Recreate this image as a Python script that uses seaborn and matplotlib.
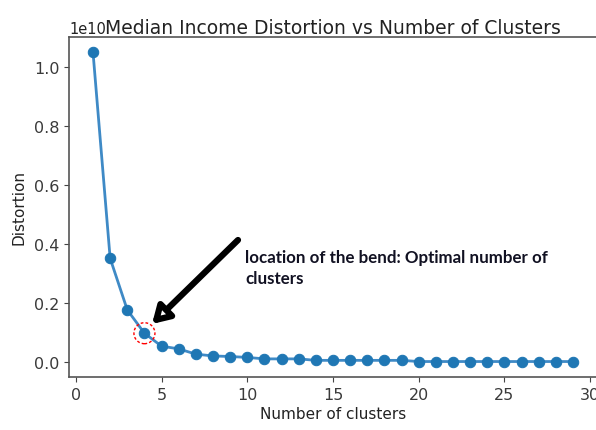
import numpy as np
import pandas as pd
import matplotlib
matplotlib.use("Agg")
import matplotlib.pyplot as plt
import seaborn as sns

clusters = list(range(1, 30))
distortion_e10 = [1.051, 0.352, 0.177, 0.098, 0.054, 0.045, 0.027, 0.021, 0.019, 0.016,
                  0.011, 0.011, 0.011, 0.006, 0.006, 0.006, 0.006, 0.006, 0.006,
                  0.002, 0.002, 0.002, 0.002, 0.002, 0.002, 0.002, 0.002, 0.002, 0.002]
title = "Median Income Distortion vs Number of Clusters"
xlabel = "Number of clusters"
ylabel = "Distortion"
note = "location of the bend: Optimal number of\nclusters"
bend_k = 4

df = pd.DataFrame({"k": clusters, "d": np.array(distortion_e10) * 1e10})

sns.set_style("ticks")
plt.rcParams["font.family"] = ["DejaVu Sans"]

fig = plt.figure(figsize=(5.96, 4.31), dpi=100)
ax = fig.add_axes([69/596, 53/431, 528/596, 340.3/431])

sns.lineplot(data=df, x="k", y="d", marker="o", markersize=7.5, color="#3f8ac6",
             markerfacecolor="#1f77b4", markeredgecolor="#1f77b4", linewidth=2, ax=ax)

ax.set_title(title, fontsize=13.5, color="#222222", pad=3, y=1.0)
ax.set_xlabel(xlabel, fontsize=11, color="#222222", labelpad=3)
ax.set_ylabel(ylabel, fontsize=11, color="#222222", labelpad=5)
ax.tick_params(colors="#444444", labelsize=11.5, length=3.5, labelcolor="#3a3a3a")
for s in ax.spines.values():
    s.set_color("#555555")
    s.set_linewidth(1.2)
ax.set_xticks([0, 5, 10, 15, 20, 25, 30])
ax.yaxis.get_offset_text().set_color("#222222")
ax.yaxis.get_offset_text().set_fontsize(10.5)

# red dashed circle around bend
bx, by = bend_k, df.loc[df.k == bend_k, "d"].values[0]
px = ax.transData.transform((bx, by))
circ = plt.Circle(px, 10.5, transform=None, fill=False, edgecolor="red",
                  linestyle=(0, (2, 1.5)), linewidth=1.0)
fig.patches.append(circ)
circ.set_figure(fig)

# arrow
ax.annotate("", xy=(152/596, 1 - 325/431), xycoords="figure fraction",
            xytext=(238/596, 1 - 241/431), textcoords="figure fraction",
            arrowprops=dict(arrowstyle="-|>,head_length=1.0,head_width=0.6",
                        lw=4.5, fc="white", ec="black", shrinkA=0, shrinkB=0))

fig.text(245/596, 1 - 268.5/431, note, fontsize=12.2, fontweight="bold",
         family=["Lato", "DejaVu Sans"], color="#111122", va="center",
         linespacing=1.42)

fig.savefig("out.png", dpi=100)
